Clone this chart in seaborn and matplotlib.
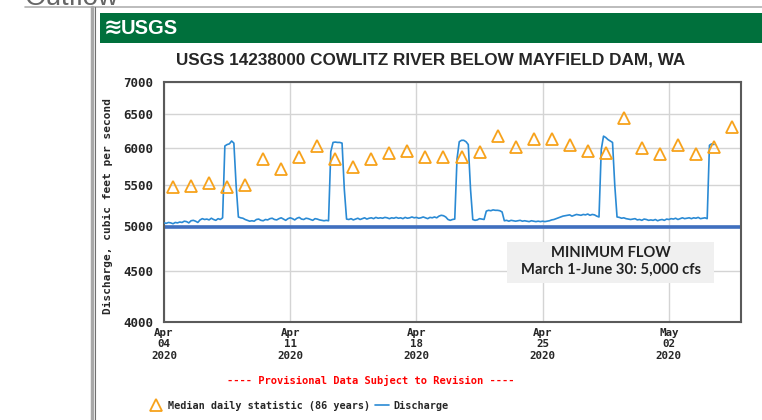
import pandas as pd
import matplotlib.pyplot as plt
import seaborn as sns
from matplotlib.lines import Line2D
from matplotlib.patches import Rectangle
from matplotlib.ticker import FixedLocator, FixedFormatter, NullLocator

# Median daily statistic (86 years), one value per day from Apr 04
median_start = '2020-04-04 12:00'
median_cfs = [5485, 5490, 5530, 5485, 5505, 5855, 5720, 5875, 6025, 5845,
              5745, 5845, 5930, 5960, 5875, 5875, 5875, 5940, 6175, 6020,
              6135, 6135, 6045, 5960, 5930, 6430, 6000, 5920, 6045, 5920,
              6010, 6310]

# Discharge, every 3 hours from Apr 04 00:00 (one row per day)
discharge_start = '2020-04-04 00:00'
discharge_cfs = [
    5040, 5035, 5045, 5040, 5030, 5045, 5040, 5050,   # Apr 04
    5045, 5060, 5055, 5040, 5065, 5070, 5060, 5045,   # Apr 05
    5075, 5090, 5080, 5085, 5075, 5095, 5080, 5070,   # Apr 06
    5090, 5080, 5100, 6030, 6050, 6060, 6100, 6070,   # Apr 07
    5500, 5110, 5100, 5095, 5080, 5070, 5060, 5065,   # Apr 08
    5060, 5080, 5085, 5070, 5065, 5080, 5075, 5090,   # Apr 09
    5095, 5080, 5075, 5090, 5100, 5085, 5070, 5090,   # Apr 10
    5100, 5090, 5075, 5095, 5105, 5085, 5080, 5095,   # Apr 11
    5090, 5080, 5070, 5090, 5085, 5075, 5070, 5065,   # Apr 12
    5070, 5065, 5950, 6080, 6085, 6080, 6080, 6070,   # Apr 13
    5450, 5085, 5080, 5090, 5075, 5085, 5095, 5080,   # Apr 14
    5090, 5100, 5085, 5095, 5100, 5090, 5105, 5095,   # Apr 15
    5100, 5095, 5105, 5100, 5090, 5100, 5095, 5105,   # Apr 16
    5095, 5100, 5090, 5105, 5095, 5100, 5110, 5100,   # Apr 17
    5105, 5095, 5100, 5110, 5100, 5090, 5105, 5100,   # Apr 18
    5110, 5100, 5120, 5130, 5125, 5110, 5080, 5070,   # Apr 19
    5080, 5085, 5850, 6090, 6110, 6110, 6090, 6050,   # Apr 20
    5450, 5080, 5070, 5075, 5090, 5085, 5080, 5180,   # Apr 21
    5190, 5185, 5195, 5190, 5190, 5185, 5170, 5065,   # Apr 22
    5070, 5060, 5070, 5065, 5060, 5065, 5070, 5060,   # Apr 23
    5065, 5060, 5055, 5065, 5060, 5055, 5060, 5055,   # Apr 24
    5060, 5055, 5060, 5065, 5075, 5080, 5090, 5100,   # Apr 25
    5110, 5120, 5125, 5130, 5135, 5120, 5130, 5140,   # Apr 26
    5135, 5130, 5140, 5135, 5145, 5130, 5140, 5135,   # Apr 27
    5120, 5110, 5980, 6170, 6150, 6120, 6100, 6080,   # Apr 28
    5500, 5110, 5105, 5095, 5100, 5090, 5085, 5080,   # Apr 29
    5085, 5090, 5075, 5080, 5070, 5085, 5080, 5070,   # Apr 30
    5075, 5070, 5080, 5065, 5075, 5080, 5070, 5085,   # May 01
    5080, 5090, 5085, 5095, 5080, 5090, 5100, 5090,   # May 02
    5095, 5100, 5090, 5100, 5095, 5105, 5090, 5095,   # May 03
    5100, 5090, 6040, 6060, 6050,                     # May 04
]

minimum_flow = 4990
y_ticks = [4000, 4500, 5000, 5500, 6000, 6500, 7000]
x_tick_dates = ['2020-04-04', '2020-04-11', '2020-04-18', '2020-04-25', '2020-05-02']
x_tick_labels = ['Apr\n04\n2020', 'Apr\n11\n2020', 'Apr\n18\n2020', 'Apr\n25\n2020', 'May\n02\n2020']

median_df = pd.DataFrame({'date': pd.date_range(median_start, periods=len(median_cfs), freq='D'),
                          'cfs': median_cfs})
flow_df = pd.DataFrame({'date': pd.date_range(discharge_start, periods=len(discharge_cfs), freq='3h'),
                        'cfs': discharge_cfs})

sns.set_style('white')
plt.rcParams['font.family'] = ['DejaVu Sans']
mono = {'family': 'DejaVu Sans Mono', 'weight': 'bold'}

W, H = 762, 420
fig = plt.figure(figsize=(W / 100, H / 100), dpi=100)
fx = lambda x: x / W
fy = lambda y: 1 - y / H

ax = fig.add_axes([fx(164), fy(322), fx(741) - fx(164), fy(82) - fy(322)])

sns.lineplot(data=flow_df, x='date', y='cfs', ax=ax, color='#2a8ad4', lw=1.2,
             label='Discharge', zorder=3)
sns.lineplot(data=median_df, x='date', y='cfs', ax=ax, linestyle='none', marker='^',
             markersize=9, markerfacecolor='none', markeredgecolor='#f7a21b',
             markeredgewidth=1.3, color='#f7a21b', label='Median daily statistic (86 years)',
             zorder=4)
ax.axhline(minimum_flow, color='#3f6fbf', lw=2.6, zorder=2)

ax.set_yscale('log')
ax.set_ylim(4000, 7000)
ax.yaxis.set_major_locator(FixedLocator(y_ticks))
ax.yaxis.set_major_formatter(FixedFormatter([str(v) for v in y_ticks]))
ax.yaxis.set_minor_locator(NullLocator())
ax.set_xlim(pd.Timestamp('2020-04-04'), pd.Timestamp('2020-05-06'))
ax.set_xticks(pd.to_datetime(x_tick_dates))
ax.set_xticklabels(x_tick_labels, linespacing=1.2)
ax.set_xlabel('')
ax.set_ylabel('')
ax.tick_params(axis='both', length=0)
ax.tick_params(axis='y', pad=8)
ax.tick_params(axis='x', pad=4)
for lab in ax.get_yticklabels():
    lab.set_fontproperties(mono)
    lab.set_fontsize(9)
for lab in ax.get_xticklabels():
    lab.set_fontproperties(mono)
    lab.set_fontsize(7.8)
ax.grid(True, color='#d4d4d4', lw=1)
for s in ax.spines.values():
    s.set_color('#5a5a5a')
    s.set_linewidth(1.5)

handles, labels = ax.get_legend_handles_labels()
ax.get_legend().remove()
fig.legend(handles[::-1], labels[::-1], loc='center left', bbox_to_anchor=(fx(140), fy(406)),
           ncol=2, frameon=False, handlelength=1.4, handletextpad=0.5, columnspacing=0.4,
           prop={'family': 'DejaVu Sans Mono', 'weight': 'bold', 'size': 7.3})

fig.text(fx(108), fy(206), 'Discharge, cubic feet per second', rotation=90,
         ha='center', va='center', fontdict=mono, fontsize=8)
fig.text(fx(371), fy(380), '---- Provisional Data Subject to Revision ----',
         ha='center', va='center', color='red', fontdict=mono, fontsize=7.5)

# page decorations around the embedded graph
fig.text(fx(25), fy(5), 'Outflow', ha='left', va='baseline', color='#666666',
         family='Liberation Sans', fontsize=20)
fig.add_artist(Line2D([fx(25), 1], [fy(6.5), fy(6.5)], color='#b0b0b0', lw=1.2))
fig.add_artist(Line2D([fx(91.5), fx(91.5)], [fy(7), 0], color='#a8a8a8', lw=2.5))
fig.add_artist(Line2D([fx(94.5), fx(94.5)], [fy(7), 0], color='#707070', lw=0.8))
fig.add_artist(Rectangle((fx(100), fy(43)), 1 - fx(100), fy(13) - fy(43),
                         transform=fig.transFigure, color='#00703c', lw=0))
fig.text(fx(104), fy(28), '\u224b', ha='left', va='center', color='white',
         fontsize=16, fontweight='bold')
fig.text(fx(121), fy(28), 'USGS', ha='left', va='center', color='white',
         family='Liberation Sans', fontweight='bold', fontsize=14.5)
fig.text(fx(431), fy(60), 'USGS 14238000 COWLITZ RIVER BELOW MAYFIELD DAM, WA',
         ha='center', va='center', family='Liberation Sans',
         fontweight='bold', fontsize=12.3)

# minimum flow note
fig.add_artist(Rectangle((fx(507), fy(283)), fx(714) - fx(507), fy(242) - fy(283),
                         transform=fig.transFigure, color='#f0f0f0', lw=0))
fig.text(fx(611), fy(253), 'MINIMUM FLOW', ha='center', va='center',
         family='Lato', fontweight='bold', fontsize=10.6, color='#222222')
fig.text(fx(611), fy(270), 'March 1-June 30: 5,000 cfs', ha='center', va='center',
         family='Lato', fontweight='bold', fontsize=10.6, color='#222222')

fig.savefig('out.png', dpi=100)
